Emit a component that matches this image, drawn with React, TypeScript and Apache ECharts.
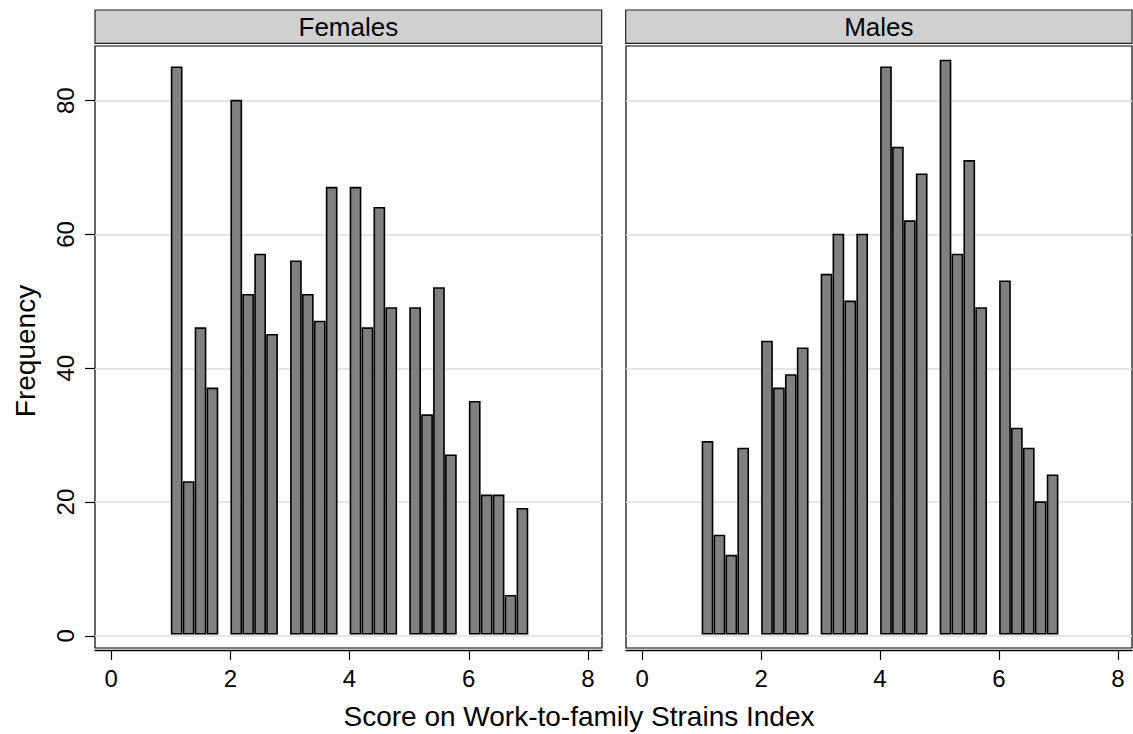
import React, { useEffect, useRef } from "react";
import * as echarts from "echarts";

// Histogram bins (left edge of each 0.2-wide bin) and frequencies
const binStarts = [1.0, 1.2, 1.4, 1.6, 2.0, 2.2, 2.4, 2.6, 3.0, 3.2, 3.4, 3.6, 4.0, 4.2, 4.4, 4.6, 5.0, 5.2, 5.4, 5.6, 6.0, 6.2, 6.4, 6.6, 6.8];
const binWidth = 0.2;
const femalesFreq = [85, 23, 46, 37, 80, 51, 57, 45, 56, 51, 47, 67, 67, 46, 64, 49, 49, 33, 52, 27, 35, 21, 21, 6, 19];
const malesFreq = [29, 15, 12, 28, 44, 37, 39, 43, 54, 60, 50, 60, 85, 73, 62, 69, 86, 57, 71, 49, 53, 31, 28, 20, 24];
const panelTitles = ["Females", "Males"];
const xTicks = [0, 2, 4, 6, 8];
const yTicks = [0, 20, 40, 60, 80];
const xTitle = "Score on Work-to-family Strains Index";
const yTitle = "Frequency";

const FONT = "'Liberation Sans', Arial, sans-serif";

export default function App() {
  const ref = useRef<HTMLDivElement>(null);
  useEffect(() => {
    if (!ref.current) return;
    const chart = echarts.init(ref.current, undefined, { renderer: "svg" });
    const mk = (freq: number[]) => binStarts.map((s, i) => [s, +(s + binWidth).toFixed(2), freq[i]]);
    const renderItem = (params: any, api: any) => {
      const x0 = api.value(0), x1 = api.value(1), v = api.value(2);
      const p0 = api.coord([x0, v]);
      const p1 = api.coord([x1, 0]);
      return {
        type: "rect",
        shape: { x: p0[0] + 0.9, y: p0[1], width: p1[0] - p0[0] - 1.8, height: p1[1] - p0[1] - 2.2 },
        style: { fill: "#808080", stroke: "#000", lineWidth: 1.6 },
      };
    };
    const grids = [
      { left: 95, right: 531, top: 46, bottom: 86 },
      { left: 626, right: 1, top: 46, bottom: 86 },
    ];
    const xAxes = grids.map((_, i) => ({
      type: "value",
      gridIndex: i,
      min: -0.27,
      max: 8.235,
      offset: 2,
      axisLine: { show: true, onZero: false, lineStyle: { color: "#000", width: 1.3 } },
      axisTick: { show: true, length: 10, customValues: xTicks, lineStyle: { color: "#000", width: 1.2 } },
      axisLabel: { show: true, customValues: xTicks, margin: 16, fontSize: 24, color: "#000", fontFamily: FONT },
      splitLine: { show: false },
    }));
    const yAxes = grids.map((_, i) => ({
      type: "value",
      gridIndex: i,
      min: -1.81,
      max: 88.17,
      axisLine: { show: false, onZero: false },
      axisTick: { show: i === 0, length: 10, customValues: yTicks, lineStyle: { color: "#000", width: 1.2 } },
      axisLabel: { show: i === 0, customValues: yTicks, rotate: 90, margin: 18, fontSize: 24, color: "#000", fontFamily: FONT },
      splitLine: { show: true, lineStyle: { color: "#dedede", width: 1.5 } },
    }));
    const headers: any[] = [];
    const hx = [[95, 601.7], [625.7, 1132]];
    hx.forEach(([a, b], i) => {
      headers.push({
        type: "rect",
        shape: { x: a, y: 10, width: b - a, height: 33.3 },
        style: { fill: "#d0d0d0", stroke: "#222", lineWidth: 1.2 },
        z: 10,
      });
      headers.push({
        type: "text",
        x: (a + b) / 2,
        y: 27,
        style: { text: panelTitles[i], fontSize: 26, fontFamily: FONT, fill: "#000", textAlign: "center", textVerticalAlign: "middle" },
        z: 11,
      });
    });
    chart.setOption({
      animation: false,
      backgroundColor: "#fff",
      grid: grids.map((g) => ({ ...g, show: true, borderColor: "#000", borderWidth: 1.2, backgroundColor: "#fff" })),
      xAxis: xAxes,
      yAxis: yAxes,
      series: [femalesFreq, malesFreq].map((f, i) => ({
        type: "custom",
        xAxisIndex: i,
        yAxisIndex: i,
        renderItem,
        encode: { x: [0, 1], y: 2 },
        data: mk(f),
      })),
      graphic: [
        ...headers,
        {
          type: "text",
          x: 579,
          y: 716.7,
          style: { text: xTitle, fontSize: 28, fontFamily: FONT, fill: "#000", textAlign: "center", textVerticalAlign: "middle" },
        },
        {
          type: "text",
          x: 25,
          y: 351,
          rotation: Math.PI / 2,
          style: { text: yTitle, fontSize: 28, fontFamily: FONT, fill: "#000", textAlign: "center", textVerticalAlign: "middle" },
        },
      ],
    });
    return () => chart.dispose();
  }, []);
  return <div ref={ref} style={{ position: "fixed", left: 0, top: 0, width: 1133, height: 734, background: "#fff" }} />;
}
